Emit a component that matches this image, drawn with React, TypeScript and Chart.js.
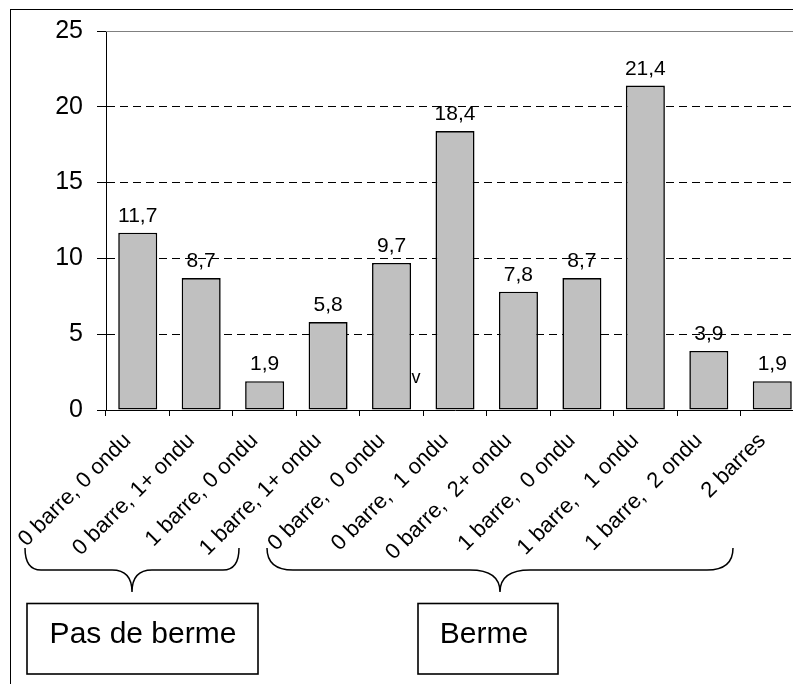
import React, { useEffect, useRef } from "react";
import { Chart, registerables } from "chart.js";

Chart.register(...registerables);

// ---- data ----
const categories: string[] = [
  "0 barre, 0 ondu",
  "0 barre, 1+ ondu",
  "1 barre, 0 ondu",
  "1 barre, 1+ ondu",
  "0 barre,  0 ondu",
  "0 barre,  1 ondu",
  "0 barre,  2+ ondu",
  "1 barre,  0 ondu",
  "1 barre,   1 ondu",
  "1 barre,  2 ondu",
  "2 barres",
];
const values: number[] = [11.7, 8.7, 1.9, 5.8, 9.7, 18.4, 7.8, 8.7, 21.4, 3.9, 1.9];
const yMin = 0;
const yMax = 25;
const yStep = 5;
const groupNames: string[] = ["Pas de berme", "Berme"];
const strayMark = "v";

const FONT = "'Liberation Sans', Arial, sans-serif";

function fmt(v: number): string {
  return v.toFixed(1).replace(".", ",");
}

function drawBrace(
  ctx: CanvasRenderingContext2D,
  x1: number,
  x2: number,
  xm: number,
  yTop: number,
  yMid: number,
  yTip: number,
  rEnd: number,
  rTip: number
) {
  ctx.beginPath();
  ctx.moveTo(x1, yTop);
  ctx.quadraticCurveTo(x1, yMid, x1 + rEnd, yMid);
  ctx.lineTo(xm - rTip, yMid);
  ctx.quadraticCurveTo(xm, yMid, xm, yTip);
  ctx.quadraticCurveTo(xm, yMid, xm + rTip, yMid);
  ctx.lineTo(x2 - rEnd, yMid);
  ctx.quadraticCurveTo(x2, yMid, x2, yTop);
  ctx.stroke();
}

const decorPlugin = {
  id: "decor",
  beforeDatasetsDraw(chart: any) {
    const { ctx, chartArea } = chart;
    ctx.save();
    ctx.strokeStyle = "#808080";
    ctx.lineWidth = 1;
    const y = Math.round(chartArea.top) + 0.5;
    ctx.beginPath();
    ctx.moveTo(chartArea.left, y);
    ctx.lineTo(chartArea.right, y);
    ctx.stroke();
    ctx.restore();
  },
  afterDatasetsDraw(chart: any) {
    const { ctx } = chart;
    const meta = chart.getDatasetMeta(0);
    ctx.save();
    ctx.fillStyle = "#000";
    ctx.font = `21px ${FONT}`;
    ctx.textAlign = "center";
    ctx.textBaseline = "alphabetic";
    meta.data.forEach((bar: any, i: number) => {
      ctx.fillText(fmt(values[i]), bar.x, bar.y - 11);
    });
    // stray mark next to the 5th bar
    const b = meta.data[4];
    const ys = chart.scales.y;
    ctx.font = `18px ${FONT}`;
    ctx.textAlign = "left";
    ctx.fillText(strayMark, b.x + b.width / 2 + 0.5, ys.getPixelForValue(1.8));
    ctx.restore();
  },
  afterDraw(chart: any) {
    const { ctx } = chart;
    ctx.save();
    // outer frame
    ctx.strokeStyle = "#000";
    ctx.lineWidth = 1;
    ctx.strokeRect(10.5, 9.5, 1000, 1000);

    // braces
    ctx.lineWidth = 1.5;
    drawBrace(ctx, 25, 239, 132, 548, 570, 592, 16, 20);
    drawBrace(ctx, 267, 733, 500, 548, 570, 592, 26, 30);

    // boxes
    ctx.lineWidth = 1.6;
    ctx.strokeRect(27, 603.5, 231, 70.5);
    ctx.strokeRect(418, 603.5, 140, 70.5);

    ctx.fillStyle = "#000";
    ctx.font = `30px ${FONT}`;
    ctx.textAlign = "center";
    ctx.textBaseline = "alphabetic";
    ctx.fillText(groupNames[0], 143, 643);
    ctx.fillText(groupNames[1], 484, 643);
    ctx.restore();
  },
};

export default function App() {
  const ref = useRef<HTMLCanvasElement>(null);

  useEffect(() => {
    if (!ref.current) return;
    const chart = new Chart(ref.current, {
      type: "bar",
      data: {
        labels: categories,
        datasets: [
          {
            data: values,
            backgroundColor: "#c0c0c0",
            borderColor: "#000",
            borderWidth: 1.6,
            borderSkipped: false,
            categoryPercentage: 1,
            barPercentage: 0.615,
          },
        ],
      },
      options: {
        responsive: false,
        animation: false,
        events: [],
        layout: { padding: { left: 11, right: 26, top: 31, bottom: 0 } },
        plugins: {
          legend: { display: false },
          tooltip: { enabled: false },
          title: { display: false },
        },
        scales: {
          x: {
            type: "category",
            offset: true,
            grid: {
              display: true,
              drawOnChartArea: false,
              drawTicks: true,
              tickLength: 6,
              tickColor: "#000",
              color: "#000",
              offset: true,
            },
            border: { display: true, color: "#000", width: 1 },
            ticks: {
              autoSkip: false,
              minRotation: 45,
              maxRotation: 45,
              padding: 12,
              labelOffset: -10,
              color: "#000",
              font: { family: FONT, size: 22 },
            },
            afterFit: (s: any) => {
              s.height = 274;
            },
          },
          y: {
            min: yMin,
            max: yMax,
            ticks: {
              stepSize: yStep,
              padding: 14,
              color: "#000",
              font: { family: FONT, size: 25 },
            },
            grid: {
              color: (c: any) =>
                c.tick && (c.tick.value === yMin || c.tick.value === yMax)
                  ? "rgba(0,0,0,0)"
                  : "#000",
              tickColor: "#000",
              tickLength: 9,
              lineWidth: 1,
            },
            border: { display: true, color: "#000", width: 1, dash: [8, 5] },
            afterFit: (s: any) => {
              s.width = 95;
            },
          },
        },
      } as any,
      plugins: [decorPlugin],
    });
    return () => chart.destroy();
  }, []);

  return (
    <div
      style={{
        position: "fixed",
        left: 0,
        top: 0,
        width: 793,
        height: 684,
        overflow: "hidden",
        background: "#fff",
      }}
    >
      <canvas ref={ref} width={830} height={684} style={{ display: "block" }} />
    </div>
  );
}
